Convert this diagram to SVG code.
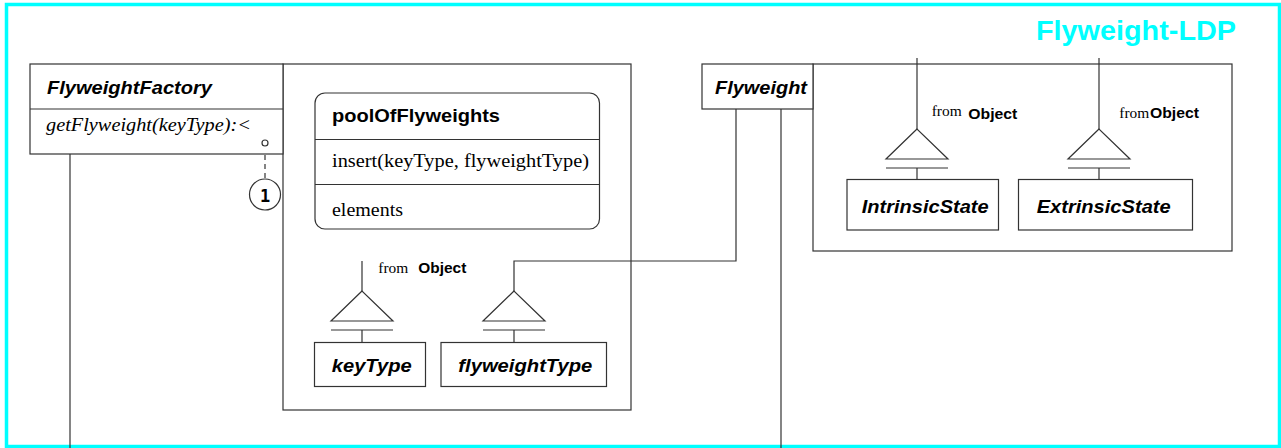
<svg xmlns="http://www.w3.org/2000/svg" width="1281" height="448" viewBox="0 0 1281 448">
<style>
.ln{fill:none;stroke:#333;stroke-width:1.2}
.box{fill:#fff;stroke:#333;stroke-width:1.2}
.cls{font-family:"Liberation Sans",Arial,sans-serif;font-weight:bold;font-style:italic;fill:#000}
.bold{font-family:"Liberation Sans",Arial,sans-serif;font-weight:bold;fill:#000}
.ser{font-family:"Liberation Serif","Times New Roman",serif;fill:#000}
.title{font-family:"Liberation Sans",Arial,sans-serif;font-weight:bold;fill:#00FFFF}
</style>
<defs>
<g id="gen"><path d="M0,0 L-31,30 L31,30 Z" fill="#fff" stroke="#333" stroke-width="1.2"/><path d="M-31,39 L31,39 M0,39 L0,51" fill="none" stroke="#333" stroke-width="1.2"/></g>
</defs>
<rect x="0" y="0" width="1281" height="448" fill="#fff"/>
<rect id="frame" x="6.5" y="4.5" width="1273" height="442" fill="none" stroke="#00FFFF" stroke-width="3.5"/>
<text id="title" class="title" x="1036" y="40" font-size="28" textLength="200" lengthAdjust="spacingAndGlyphs">Flyweight-LDP</text>

<g id="connectors">
<path class="ln" d="M70,154 L70,448"/>
<path class="ln" d="M781,109 L781,448"/>
<path class="ln" d="M514,291 L514,261 L736,261 L736,109"/>
<path class="ln" d="M362,291 L362,261"/>
<path class="ln" d="M917,129 L917,58"/>
<path class="ln" d="M1099,129 L1099,58"/>
<path class="ln" d="M265,146 L265,179" stroke-dasharray="5,4"/>
<use href="#gen" x="362" y="291"/>
<use href="#gen" x="514" y="291"/>
<use href="#gen" x="917" y="129"/>
<use href="#gen" x="1099" y="129"/>
</g>

<g id="poolContainer">
<rect class="ln" x="283" y="64" width="348" height="346"/>
</g>

<g id="flyweightContainer">
<rect class="ln" x="813" y="64" width="419" height="187"/>
</g>

<g id="FlyweightFactory">
<rect class="box" x="30" y="64" width="253" height="90"/>
<path class="ln" d="M30,109 L283,109"/>
<text class="cls" x="47" y="94" font-size="18.5" textLength="165" lengthAdjust="spacingAndGlyphs">FlyweightFactory</text>
<text class="ser" x="46" y="131" font-size="18.5" font-style="italic" textLength="205" lengthAdjust="spacingAndGlyphs">getFlyweight(keyType):&lt;</text>
<circle cx="265" cy="143" r="3" class="ln" fill="#fff"/>
</g>

<g id="note1">
<circle cx="265" cy="194.5" r="15.5" fill="#fff" stroke="#333" stroke-width="1.2"/>
<text x="265" y="201.5" font-size="17" text-anchor="middle" font-family="'DejaVu Sans Mono',monospace" font-weight="bold">1</text>
</g>

<g id="poolOfFlyweights">
<rect class="box" x="315" y="93" width="284.5" height="136" rx="10" ry="10"/>
<path class="ln" d="M315,139.5 L599.5,139.5 M315,184.5 L599.5,184.5"/>
<text class="bold" x="332" y="122" font-size="17.5" textLength="168" lengthAdjust="spacingAndGlyphs">poolOfFlyweights</text>
<text class="ser" x="332" y="167" font-size="18.5" textLength="257" lengthAdjust="spacingAndGlyphs">insert(keyType, flyweightType)</text>
<text class="ser" x="332" y="216" font-size="18.5" textLength="71" lengthAdjust="spacingAndGlyphs">elements</text>
</g>

<g id="keyTypeFrom">
<text class="ser" x="378.3" y="273.3" font-size="15" textLength="30" lengthAdjust="spacingAndGlyphs">from</text>
<text class="bold" x="418.3" y="273.3" font-size="14" textLength="48" lengthAdjust="spacingAndGlyphs">Object</text>
</g>

<g id="keyType">
<rect class="box" x="314.5" y="342.5" width="111" height="44"/>
<text class="cls" x="331.7" y="372" font-size="19" textLength="80" lengthAdjust="spacingAndGlyphs">keyType</text>
</g>

<g id="flyweightType">
<rect class="box" x="441" y="342.5" width="165.5" height="44"/>
<text class="cls" x="458.3" y="372" font-size="19" textLength="134" lengthAdjust="spacingAndGlyphs">flyweightType</text>
</g>

<g id="Flyweight">
<rect class="box" x="702" y="64" width="111" height="45"/>
<text class="cls" x="715" y="94" font-size="18.5" textLength="92" lengthAdjust="spacingAndGlyphs">Flyweight</text>
</g>

<g id="intrinsicFrom">
<text class="ser" x="931.7" y="116" font-size="15" textLength="30" lengthAdjust="spacingAndGlyphs">from</text>
<text class="bold" x="968.3" y="118.5" font-size="14" textLength="49" lengthAdjust="spacingAndGlyphs">Object</text>
</g>

<g id="IntrinsicState">
<rect class="box" x="847" y="179.5" width="151.5" height="50.5"/>
<text class="cls" x="861.7" y="213" font-size="19" textLength="127" lengthAdjust="spacingAndGlyphs">IntrinsicState</text>
</g>

<g id="extrinsicFrom">
<text class="ser" x="1119.3" y="118.3" font-size="15" textLength="30" lengthAdjust="spacingAndGlyphs">from</text>
<text class="bold" x="1150" y="118.3" font-size="14" textLength="49" lengthAdjust="spacingAndGlyphs">Object</text>
</g>

<g id="ExtrinsicState">
<rect class="box" x="1018.5" y="179.5" width="174" height="50.5"/>
<text class="cls" x="1036.7" y="213" font-size="19" textLength="134" lengthAdjust="spacingAndGlyphs">ExtrinsicState</text>
</g>
</svg>
